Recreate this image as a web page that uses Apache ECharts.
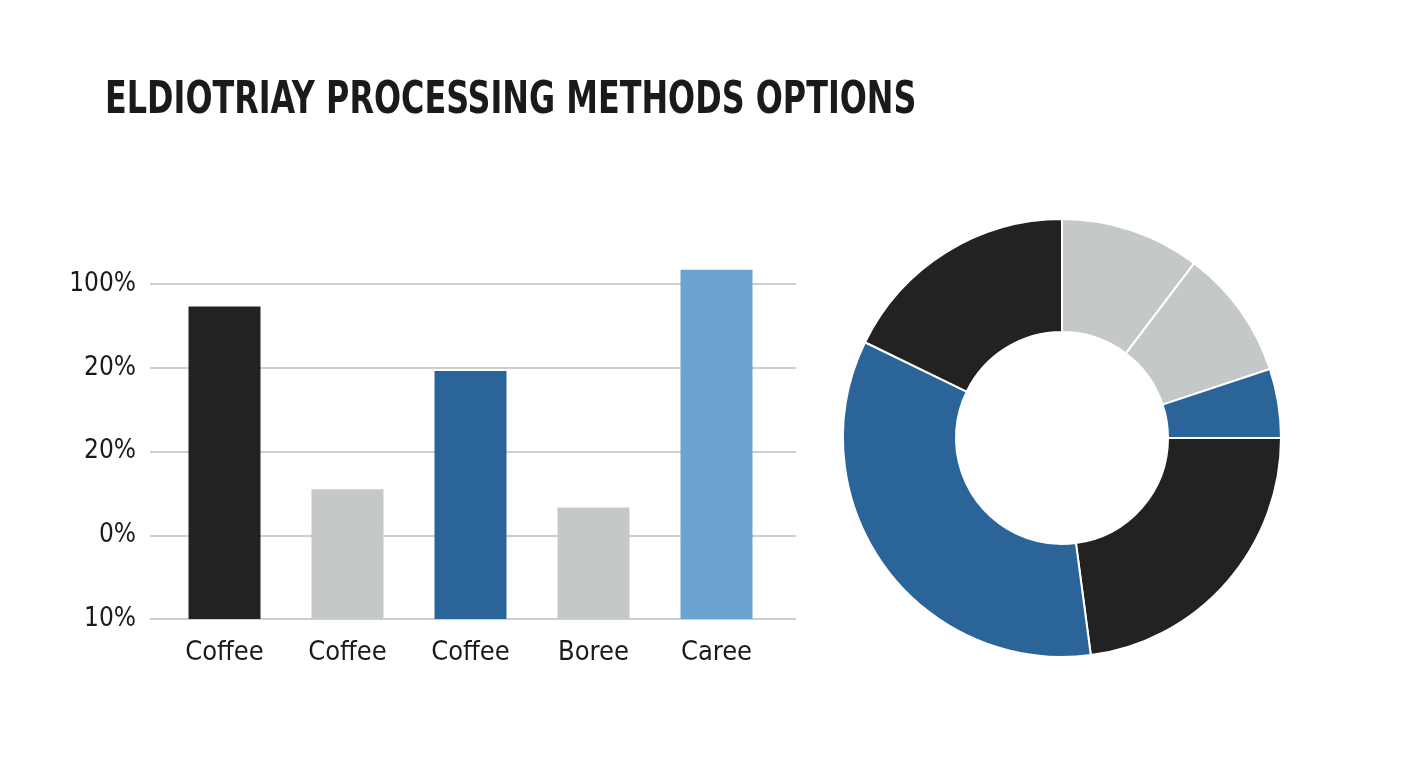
<!DOCTYPE html>
<html>
<head>
<meta charset="utf-8">
<script src="https://cdn.jsdelivr.net/npm/echarts@6/dist/echarts.min.js"></script>
<style>
  html, body { margin: 0; padding: 0; background: #ffffff; }
  #main { width: 1408px; height: 768px; }
</style>
</head>
<body>
<div id="main"></div>
<script>
// data
var categories = ['Coffee', 'Coffee', 'Coffee', 'Boree', 'Caree'];
var barValues = [3.73, 1.55, 2.96, 1.33, 4.17];
var barColors = ['#222222', '#c5c8c9', '#2b6499', '#c5c8c9', '#6ba4d1'];
var tickLabels = ['10%', '0%', '20%', '20%', '100%'];

var pieNames = ['A', 'B', 'C', 'D', 'E', 'F'];
var pieValues = [10.3, 9.6, 5.1, 22.9, 34.3, 17.8];
var pieColors = ['#c5c8c9', '#c5c8c9', '#2b6499', '#222222', '#2b6499', '#222222'];

var font = '"DejaVu Sans Condensed", "Liberation Sans Narrow", sans-serif';

var myChart = echarts.init(document.getElementById('main'));

var option = {
    backgroundColor: '#ffffff',
    // title drawn as graphic text so it can be squeezed like the condensed original
    graphic: [{
        type: 'text',
        left: 105,
        top: 80,
        scaleX: 0.805,
        style: {
            text: 'ELDIOTRIAY PROCESSING METHODS OPTIONS',
            font: 'bold 44px ' + font,
            fill: '#1a1a1a'
        }
    }],
    grid: [
        { left: 150, right: 612, top: 284, bottom: 149 },
        { left: 163, width: 615, top: 284, bottom: 149 }
    ],
    xAxis: [
        { gridIndex: 0, type: 'category', data: categories, show: false },
        {
            gridIndex: 1,
            type: 'category',
            data: categories,
            axisLine: { show: false },
            axisTick: { show: false },
            axisLabel: {
                margin: 20,
                fontFamily: font,
                fontSize: 27,
                color: '#1a1a1a'
            }
        }
    ],
    yAxis: [
        {
            gridIndex: 0,
            type: 'value',
            min: 0,
            max: 4,
            interval: 1,
            axisLine: { show: false },
            axisTick: { show: false },
            splitLine: { lineStyle: { color: '#cfcfcf', width: 2 } },
            axisLabel: {
                margin: 14,
                fontFamily: font,
                fontSize: 26,
                color: '#1a1a1a',
                formatter: function (v) { return tickLabels[v]; }
            }
        },
        {
            gridIndex: 1,
            type: 'value',
            min: 0,
            max: 4,
            interval: 1,
            show: false,
            splitLine: { show: false }
        }
    ],
    series: [
        {
            type: 'bar',
            xAxisIndex: 1,
            yAxisIndex: 1,
            barWidth: 72,
            clip: false,
            data: barValues.map(function (v, i) {
                return { value: v, itemStyle: { color: barColors[i] } };
            })
        },
        {
            type: 'pie',
            center: [1062, 438],
            radius: [106, 219],
            startAngle: 90,
            clockwise: true,
            label: { show: false },
            labelLine: { show: false },
            itemStyle: { borderColor: '#ffffff', borderWidth: 2 },
            data: pieValues.map(function (v, i) {
                return { name: pieNames[i], value: v, itemStyle: { color: pieColors[i] } };
            })
        }
    ]
};

myChart.setOption(option);
</script>
</body>
</html>
